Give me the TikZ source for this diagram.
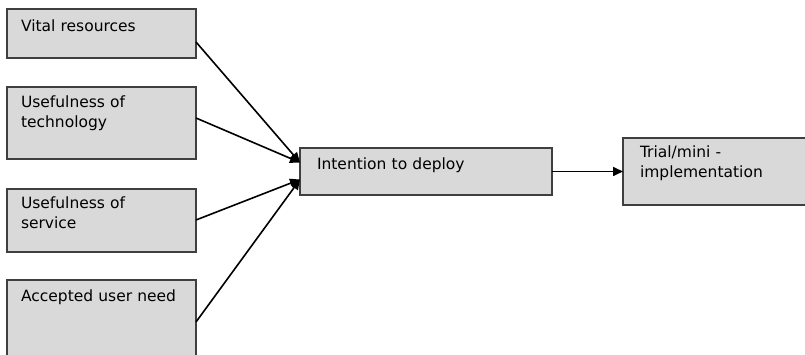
\documentclass[tikz,border=0pt]{standalone}
\usepackage{fontspec}
\setmainfont{DejaVu Sans}
\usetikzlibrary{arrows.meta,positioning}
\definecolor{boxfill}{HTML}{D9D9D9}
\definecolor{boxline}{HTML}{3F3F3F}

\begin{document}
\begin{tikzpicture}[x=1pt,y=1pt,every node/.style={font=\fontsize{15.5}{20}\selectfont},
  factor/.style={draw=boxline,line width=1.6pt,fill=boxfill,align=left,text width=161pt,inner xsep=14pt,inner ysep=0pt,outer sep=0pt},
  stage/.style={factor,inner xsep=17pt},
  arr/.style={-{Triangle[length=10pt,width=9pt]},line width=1.6pt}]
\useasboundingbox (0,0) rectangle (805,355);
\node[factor,anchor=north west,text height=23pt,text depth=26pt] (vital) at (7,346) {Vital resources};
\node[factor,below=29pt of vital,text height=21pt,text depth=51pt] (techno) {Usefulness of\\technology};
\node[factor,below=30pt of techno,text height=20pt,text depth=43pt] (service) {Usefulness of\\service};
\node[factor,below=28pt of service,text height=22pt,text depth=73pt] (need) {Accepted user need};
\node[stage,text width=218pt,anchor=north west,text height=22pt,text depth=25pt] (intent) at (300,207) {Intention to deploy};
\node[stage,text width=161pt,right=71pt of intent,text height=20pt,text depth=47pt] (trial) {Trial/mini -\\implementation};
\draw[arr] ([yshift=-33pt]vital.north east) -- ([yshift=9pt]intent.west);
\draw[arr] ([yshift=-31pt]techno.north east) -- ([yshift=9pt]intent.west);
\draw[arr] ([yshift=-31pt]service.north east) -- ([yshift=-8pt]intent.west);
\draw[arr] ([yshift=-42pt]need.north east) -- ([yshift=-8pt]intent.west);
\draw[arr] (intent) -- (trial);
\end{tikzpicture}
\end{document}
